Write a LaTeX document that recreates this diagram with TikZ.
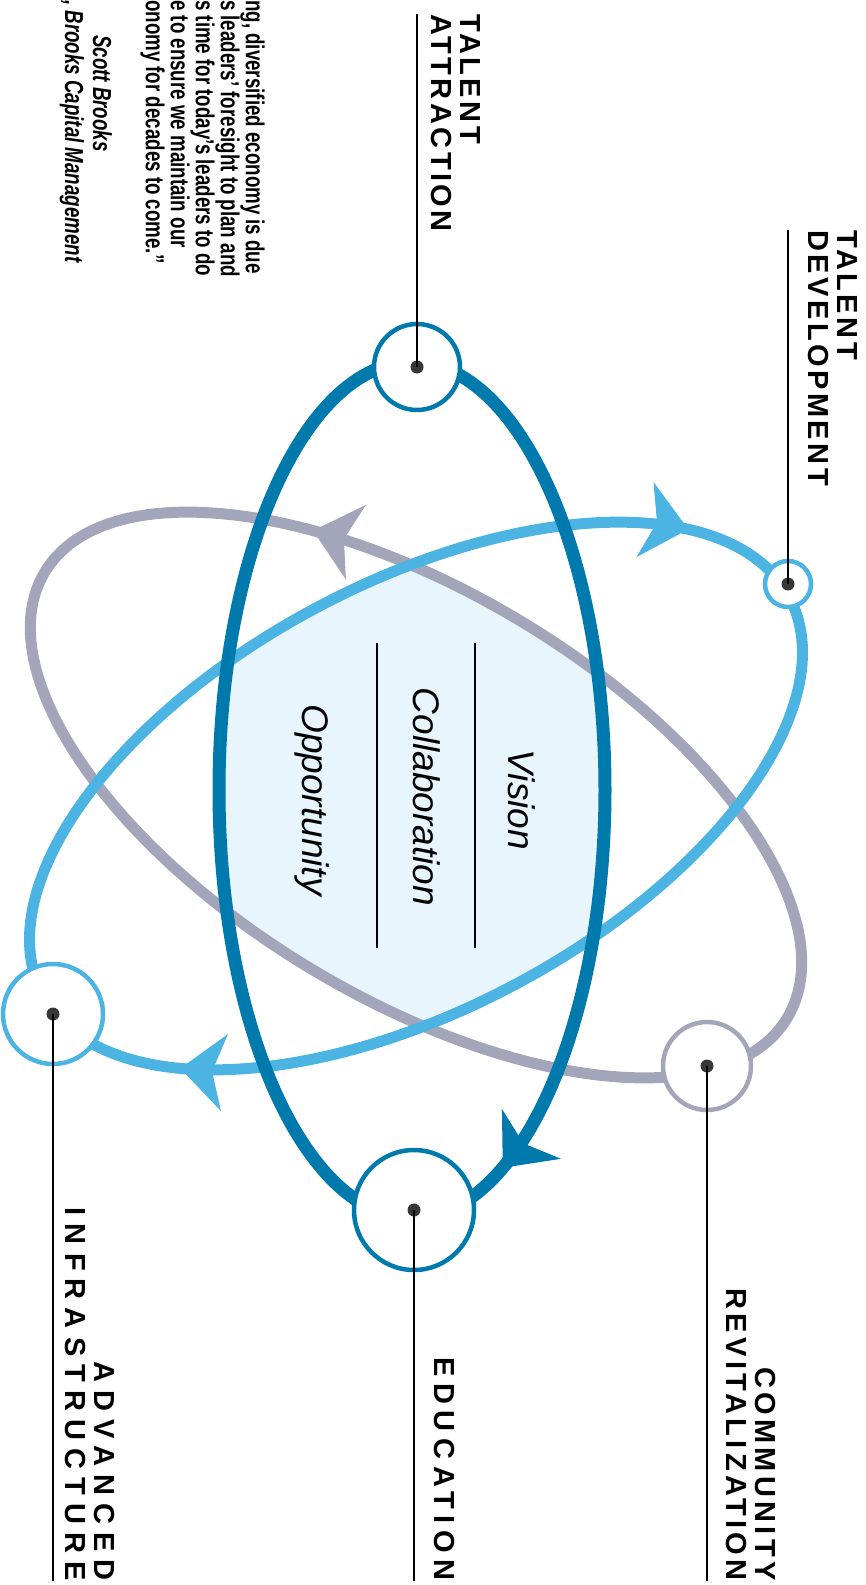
\documentclass[tikz,border=0pt]{standalone}
\usepackage{fontspec}
\setmainfont{Liberation Sans}
\newfontfamily\quotefont[FakeStretch=0.72]{Liberation Sans}
\usetikzlibrary{arrows.meta,decorations.markings,positioning}

\definecolor{orbitdark}{RGB}{0,121,172}
\definecolor{orbitlight}{RGB}{76,180,226}
\definecolor{orbitgray}{RGB}{163,166,186}
\definecolor{corefill}{RGB}{232,245,253}
\definecolor{pingray}{RGB}{55,55,58}

\newcommand{\orbittip}{Stealth[length=44pt,width=76pt,inset=12pt]}
\newcommand{\tagfont}[1]{\bfseries\fontsize{29}{29}\selectfont\addfontfeature{LetterSpace=#1}}

\tikzstyle{orbit}=[line width=11pt]
\tikzstyle{ring}=[circle,fill=white,line width=4.5pt,inner sep=0pt]
\tikzstyle{pin}=[circle,fill=pingray,minimum size=13pt,inner sep=0pt]
\tikzstyle{leader}=[-,draw=black,line width=2pt]
\tikzstyle{tag}=[rotate=-90,inner sep=0pt]
\tikzstyle{core}=[rotate=-90,inner sep=0pt,font=\itshape\fontsize{37}{40}\selectfont]
\tikzstyle{quote}=[rotate=-90,inner sep=0pt,align=left,font=\quotefont\bfseries\fontsize{26}{25}\selectfont]
\tikzstyle{quotesig}=[rotate=-90,inner sep=0pt,font=\quotefont\bfseries\itshape\fontsize{26}{25}\selectfont]

\begin{document}
\begin{tikzpicture}[x=1pt,y=-1pt]
	\useasboundingbox (0,0) rectangle (866,1585);

	% shared core of the three orbits
	\begin{scope}
		\clip (412,790) ellipse [x radius=193pt, y radius=428pt];
		\clip (416,795) ellipse [x radius=433pt, y radius=203pt, rotate=-31];
		\fill [corefill] (416,796) ellipse [x radius=423pt, y radius=213pt, rotate=28.1];
	\end{scope}

	% orbits
	\draw [style=orbit, orbitgray, postaction={decorate},
		decoration={markings, mark=at position .36 with {\arrow{\orbittip}}}]
		(416,795) ellipse [x radius=433pt, y radius=203pt, rotate=-31];
	\draw [style=orbit, orbitlight, postaction={decorate},
		decoration={markings, mark=at position .061 with {\arrowreversed{\orbittip}},
			mark=at position .579 with {\arrowreversed{\orbittip}}}]
		(416,796) ellipse [x radius=423pt, y radius=213pt, rotate=28.1];
	\draw [style=orbit, line width=13pt, orbitdark, postaction={decorate},
		decoration={markings, mark=at position .803 with {\arrowreversed{\orbittip}}}]
		(412,790) ellipse [x radius=193pt, y radius=428pt];

	% core texts
	\node [style=core, anchor=base] (vision) at (508,800) {Vision};
	\node [style=core, anchor=base] (collab) at (413,797) {Collaboration};
	\node [style=core, anchor=base] (oppo) at (302,800) {Opportunity};
	\coordinate (sepAtop) at (475,643);
	\coordinate (sepAbot) at (475,948);
	\coordinate (sepBtop) at (377,643);
	\coordinate (sepBbot) at (377,948);
	\draw [line width=1.6pt] (sepAtop) -- (sepAbot);
	\draw [line width=1.6pt] (sepBtop) -- (sepBbot);

	% rings on the orbits
	\node [style=ring, draw=orbitdark, minimum size=86pt] (attraction) at (417,367) {};
	\node [style=ring, draw=orbitlight, minimum size=46pt] (development) at (788,584) {};
	\node [style=ring, draw=orbitgray, minimum size=88pt] (community) at (707,1066) {};
	\node [style=ring, draw=orbitdark, minimum size=120pt] (education) at (414,1210) {};
	\node [style=ring, draw=orbitlight, minimum size=100pt] (infra) at (53,1014) {};

	\node [style=pin] (attractionpin) at (attraction.center) {};
	\node [style=pin] (developmentpin) at (development.center) {};
	\node [style=pin] (communitypin) at (community.center) {};
	\node [style=pin] (educationpin) at (education.center) {};
	\node [style=pin] (infrapin) at (infra.center) {};

	% leaders and labels
	\coordinate (attractionend) at (417,14);
	\coordinate (developmentend) at (788,230);
	\coordinate (communityend) at (707,1581);
	\coordinate (educationend) at (414,1581);
	\coordinate (infraend) at (53,1581);
	\draw [style=leader] (attractionpin.center) to (attractionend);
	\draw [style=leader] (developmentpin.center) to (developmentend);
	\draw [style=leader] (communitypin.center) to (communityend);
	\draw [style=leader] (educationpin.center) to (educationend);
	\draw [style=leader] (infrapin.center) to (infraend);

	\node [style=tag, align=left, anchor=north west, font=\tagfont{12}] (attractiontag) at (481,14) {TALENT\\ATTRACTION};
	\node [style=tag, align=left, anchor=north west, font=\tagfont{12}] (developmenttag) at (858,230) {TALENT\\DEVELOPMENT};
	\node [style=tag, align=right, anchor=south east, font=\tagfont{15}] (communitytag) at (726,1581) {COMMUNITY\\REVITALIZATION};
	\node [style=tag, anchor=south east, font=\tagfont{23}] (educationtag) at (434,1581) {EDUCATION};
	\node [style=tag, align=right, anchor=south east, font=\tagfont{28}] (infratag) at (65,1581) {ADVANCED\\INFRASTRUCTURE};

	% quote
	\node [style=quote, anchor=north west] (quotetext) at (265,0) {ng, diversified economy is due\\s leaders’ foresight to plan and\\s time for today’s leaders to do\\e to ensure we maintain our\\onomy for decades to come.”};
	\node [style=quotesig, anchor=base west] (quotename) at (93,35) {Scott Brooks};
	\node [style=quotesig, anchor=base west] (quotefirm) at (65,0) {, Brooks Capital Management};
\end{tikzpicture}
\end{document}
